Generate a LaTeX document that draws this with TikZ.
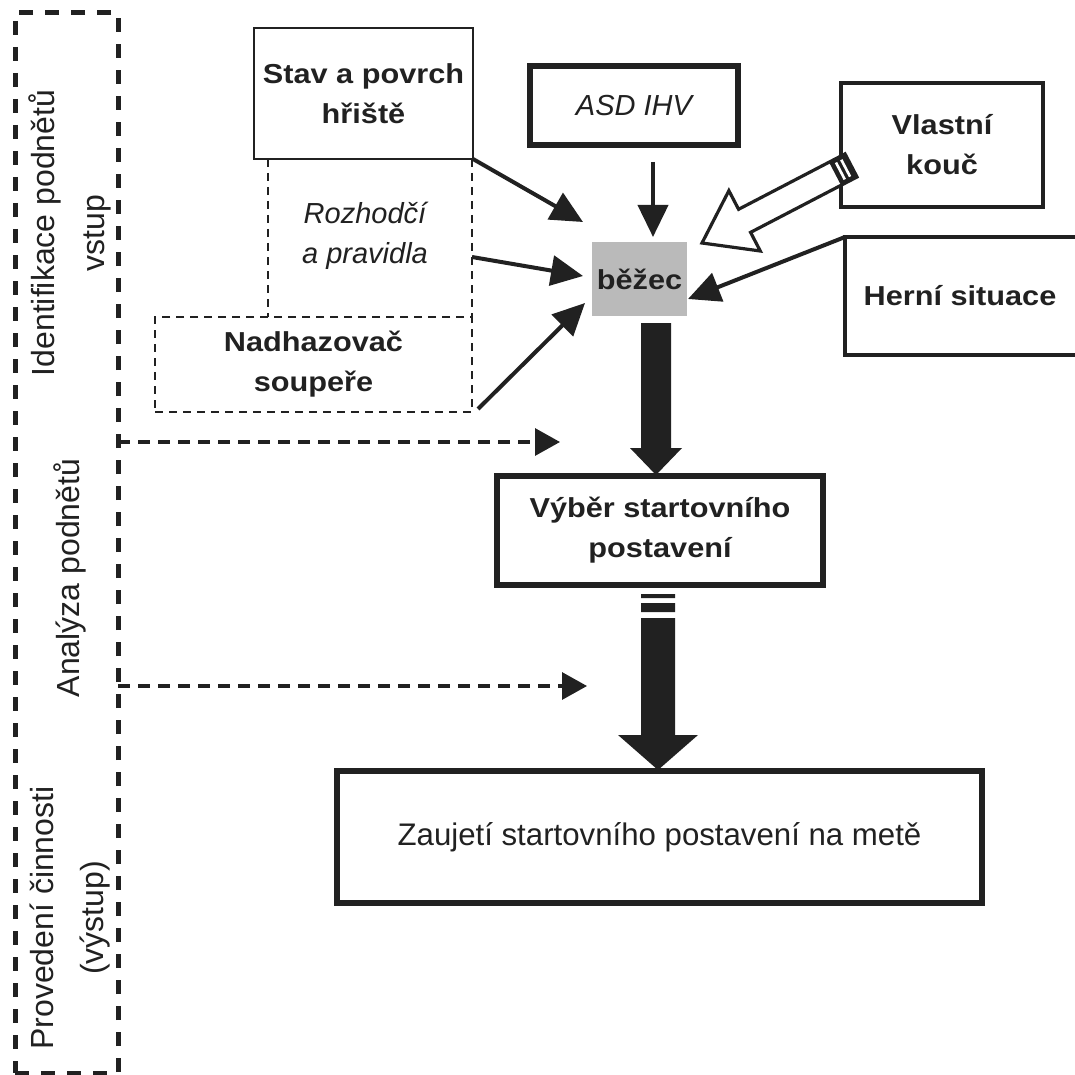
\documentclass[tikz,border=0pt]{standalone}
\usepackage{fontspec}
\setmainfont{Liberation Sans}
\newfontfamily\widesans[FakeStretch=1.12]{Liberation Sans}
\usetikzlibrary{arrows.meta,calc}
\definecolor{ink}{gray}{0.13}

\tikzset{
  every node/.style={inner sep=0pt, outer sep=0pt},
  boldtext/.style={font=\widesans\bfseries\fontsize{13.7pt}{20pt}\selectfont, align=center},
  italtext/.style={font=\itshape\fontsize{14.5pt}{20pt}\selectfont, align=center},
  plaintext/.style={font=\fontsize{15.6pt}{20pt}\selectfont, align=center},
  phasetext/.style={font=\fontsize{16pt}{25pt}\selectfont, align=center, rotate=90},
  thinframe/.style={draw, line width=1.25pt},
  midframe/.style={draw, line width=1.6pt},
  heavyframe/.style={draw, line width=2.8pt},
  asdframe/.style={draw, line width=3.2pt},
  guide/.style={line width=1.2pt, dash pattern=on 4pt off 3pt},
  phaseframe/.style={line width=2.5pt, dash pattern=on 7pt off 6pt},
  feed/.style={line width=2pt, -{Triangle[length=16pt,width=15pt]}},
  cue/.style={line width=1.6pt, dash pattern=on 6pt off 4pt, -{Triangle[length=12.5pt,width=13.5pt]}},
}

\begin{document}
\begin{tikzpicture}[x=0.5pt, y=-0.5pt, color=ink]
\useasboundingbox (0,0) rectangle (1075,1075);
\fill[white] (0,0) rectangle (1075,1075);
\clip (0,0) rectangle (1075,1075);

% phase column on the left
\node (phases) [draw, phaseframe, minimum width=51.5pt, minimum height=530pt] at (66.5,543) {};
\node (ident) [phasetext] at (70,233) {Identifikace podnětů\\vstup};
\node (anal)  [phasetext] at (70,578) {Analýza podnětů};
\node (prov)  [phasetext] at (70,918) {Provedení činnosti\\(výstup)};

% stimulus sources
\node (stav)  [thinframe, boldtext, minimum width=109.5pt, minimum height=65.5pt] at (363.5,93.5) {Stav a povrch\\hřiště};
\node (asd)   [asdframe, italtext, minimum width=104pt, minimum height=39.5pt] at (634,105.5) {ASD IHV};
\node (koucz) [midframe, boldtext, minimum width=101pt, minimum height=62pt] at (942,145) {Vlastní\\kouč};
\node (herni) [boldtext, minimum width=115pt, minimum height=59pt, anchor=north west] at (845,237) {Herní situace};
\draw[midframe] ($(herni.north east)+(10,0)$) -- (herni.north west) -- (herni.south west) -- ($(herni.south east)+(10,0)$);

\node (rozh)   [italtext] at (365,236) {Rozhodčí\\a pravidla};
\node (nadhaz) [draw, guide, boldtext, minimum width=158.5pt, minimum height=47.5pt] at (313.5,364.5) {Nadhazovač\\soupeře};
\coordinate (gl) at ($(stav.south west)+(14,0)$);
\draw[guide] (gl) -- (gl |- nadhaz.north);
\draw[guide] (stav.south east -| nadhaz.east) -- (nadhaz.north east);

% the runner
\node (bezec) [fill=black!27, boldtext, minimum width=47.5pt, minimum height=37pt] at (639.5,279) {běžec};

% decisions
\node (vyber) [heavyframe, boldtext, minimum width=163pt, minimum height=54.5pt] at (660,530.5) {Výběr startovního\\postavení};
\node (zauj)  [heavyframe, plaintext, minimum width=322.5pt, minimum height=66pt] at (659.5,837) {Zaujetí startovního postavení na metě};

% inputs to the runner
\coordinate (tipA) at (583,222);
\draw[feed] (stav.south east) -- (tipA);
\coordinate (rzA) at (472,257);
\coordinate (tipB) at (583,276);
\draw[feed] (rzA) -- (tipB);
\coordinate (tipC) at (585,303);
\draw[feed] ($(nadhaz.south east)+(6,-3)$) -- (tipC);
\coordinate (asdOut) at ($(asd.south)+(19,17)$);
\draw[feed, shorten >=2.5pt] (asdOut) -- (asdOut |- bezec.north);
\coordinate (tipE) at (688,299);
\draw[feed] (herni.north west) -- (tipE);

% hollow arrow from the coach
\coordinate (coachTip) at (702,243);
\begin{scope}[shift={(coachTip)}, rotate=27.5]
  \filldraw[fill=white, line width=1.6pt, line join=miter]
    (0,0) -- (48,34) -- (48,13) -- (168,13) -- (168,-13) -- (48,-13) -- (48,-34) -- cycle;
  \fill (150,-13) rectangle (168,13);
  \draw[white, line width=1.3pt] (156,-9.5) -- (156,9.5) (162,-9.5) -- (162,9.5);
\end{scope}

% main flow arrows
\coordinate (flowA) at ($(vyber.north)+(-4,-1)$);
\fill[shift={(flowA)}] (0,0) -- (-26,-27) -- (-15,-27) -- (-15,-152) -- (15,-152) -- (15,-27) -- (26,-27) -- cycle;
\coordinate (flowB) at ($(zauj.north)+(-1.5,-1)$);
\fill[shift={(flowB)}] (0,0) -- (-40,-35) -- (-17,-35) -- (-17,-152) -- (17,-152) -- (17,-35) -- (40,-35) -- cycle;
\fill[shift={(flowB)}] (-17,-176) rectangle (17,-172) (-17,-167) rectangle (17,-158);

% phase cues
\coordinate (cueA) at (560,442);
\draw[cue] (phases.east |- cueA) -- (cueA);
\coordinate (cueB) at (587,686);
\draw[cue] (phases.east |- cueB) -- (cueB);
\end{tikzpicture}
\end{document}
